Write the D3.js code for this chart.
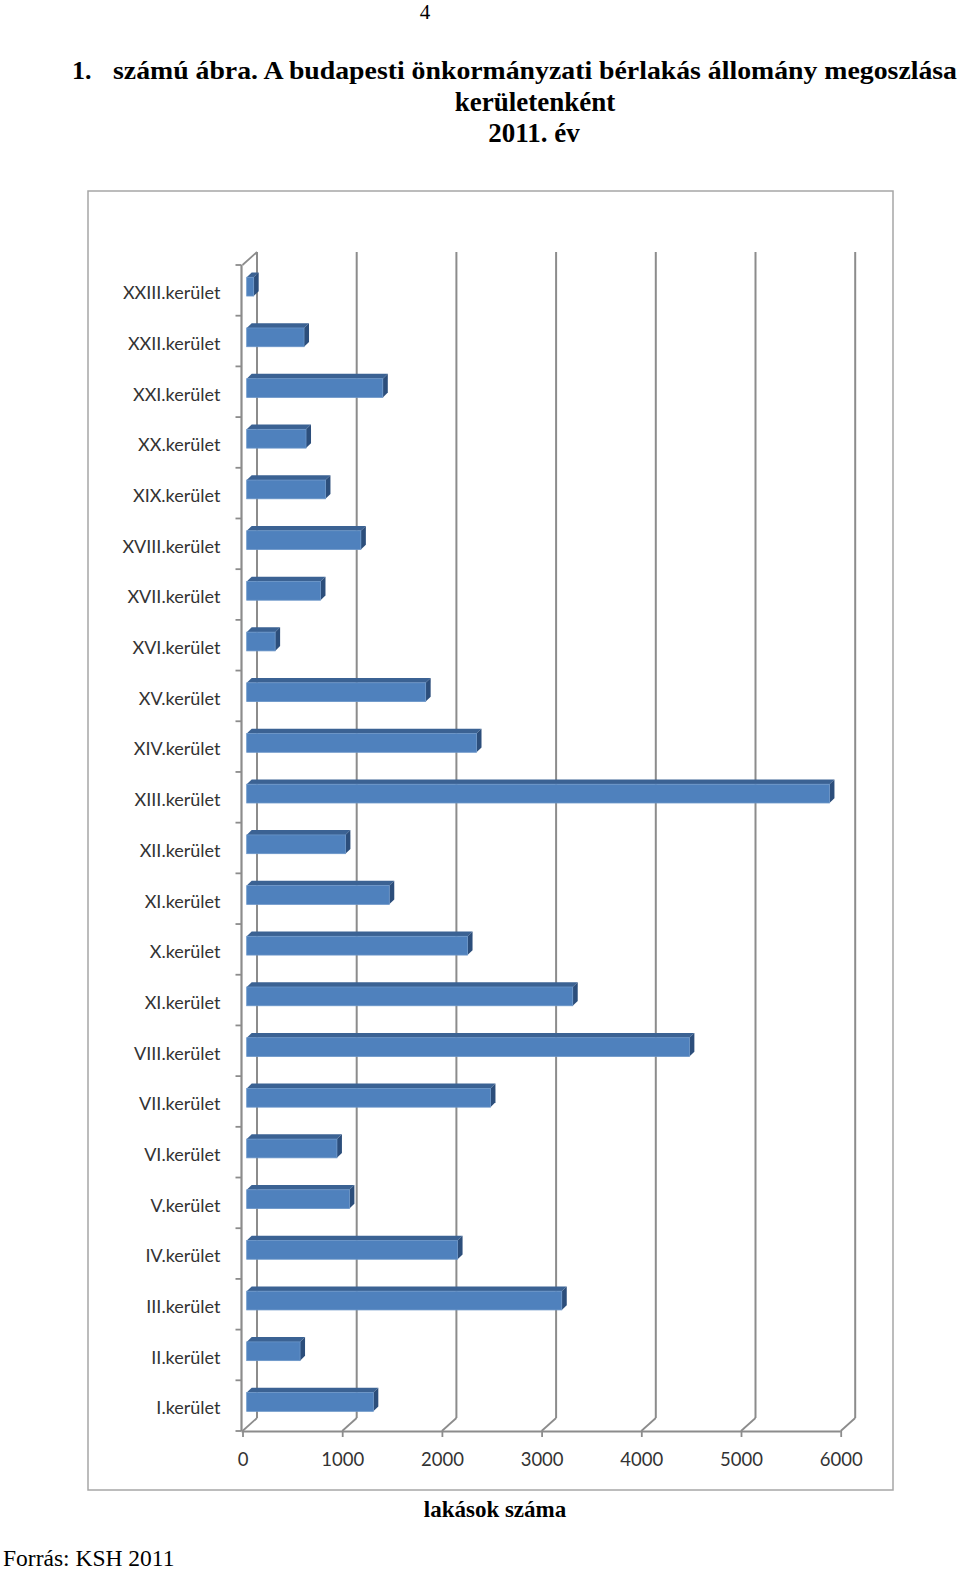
<!DOCTYPE html>
<html>
<head>
<meta charset="utf-8">
<script src="https://cdn.jsdelivr.net/npm/d3@7"></script>
<style>
  html, body { margin: 0; padding: 0; background: #fff; }
  svg { display: block; }
</style>
</head>
<body>
<svg id="chart" width="960" height="1573"></svg>
<script>
// ---- data (top to bottom, as in the chart) ----
const categories = [
  "XXIII.kerület", "XXII.kerület", "XXI.kerület", "XX.kerület", "XIX.kerület",
  "XVIII.kerület", "XVII.kerület", "XVI.kerület", "XV.kerület", "XIV.kerület",
  "XIII.kerület", "XII.kerület", "XI.kerület", "X.kerület", "XI.kerület ",
  "VIII.kerület", "VII.kerület", "VI.kerület", "V.kerület", "IV.kerület",
  "III.kerület", "II.kerület", "I.kerület"
];
const values = [
  70, 575, 1365, 595, 790,
  1145, 740, 285, 1795, 2305,
  5845, 990, 1430, 2215, 3270,
  4440, 2445, 905, 1030, 2115,
  3160, 535, 1270
];
const tickValues = [0, 1000, 2000, 3000, 4000, 5000, 6000];

const titleLine1Num = "1.";
const titleLine1 = "számú ábra. A budapesti önkormányzati bérlakás állomány megoszlása";
const titleLine2 = "kerületenként";
const titleLine3 = "2011. év";
const pageNumber = "4";
const axisTitle = "lakások száma";
const sourceText = "Forrás: KSH 2011";

// ---- drawing ----
const svg = d3.select("#chart");
const serif = "'Liberation Serif', 'Times New Roman', serif";
const sans = "Lato, 'Open Sans', sans-serif";

// page number and titles
svg.append("text").attr("x", 425).attr("y", 19).attr("text-anchor", "middle")
  .attr("font-family", serif).attr("font-size", 21).text(pageNumber);
svg.append("text").attr("x", 72).attr("y", 79)
  .attr("font-family", serif).attr("font-weight", "bold").attr("font-size", 26).text(titleLine1Num);
svg.append("text").attr("x", 113).attr("y", 79)
  .attr("font-family", serif).attr("font-weight", "bold").attr("font-size", 26)
  .attr("textLength", 844).attr("lengthAdjust", "spacingAndGlyphs").text(titleLine1);
svg.append("text").attr("x", 535).attr("y", 111).attr("text-anchor", "middle")
  .attr("font-family", serif).attr("font-weight", "bold").attr("font-size", 27).text(titleLine2);
svg.append("text").attr("x", 534).attr("y", 142).attr("text-anchor", "middle")
  .attr("font-family", serif).attr("font-weight", "bold").attr("font-size", 27).text(titleLine3);

// chart border
svg.append("rect").attr("x", 88).attr("y", 191).attr("width", 805).attr("height", 1299)
  .attr("fill", "#fff").attr("stroke", "#a6a6a6").attr("stroke-width", 1.5);

// 3D geometry
const depthDx = 14.5, depthDy = -13;          // full floor depth
const barOffDx = 4.2, barOffDy = -3.7;        // bar front face position in depth
const barDx = 5, barDy = -4.8;                // bar depth

const x = d3.scaleLinear().domain([0, 6000]).range([242.5, 840.7]);
const y = d3.scaleBand().domain(categories).range([265, 1431])
  .paddingInner(0.63).paddingOuter(0.315);
const yTop = 265, yBot = 1431;

const gridColor = "#8c8c8c";

// back-wall gridlines
svg.append("g").selectAll("line").data(tickValues).join("line")
  .attr("x1", d => x(d) + depthDx).attr("x2", d => x(d) + depthDx)
  .attr("y1", yTop + depthDy).attr("y2", yBot + depthDy)
  .attr("stroke", gridColor).attr("stroke-width", 2);

// floor diagonals
svg.append("g").selectAll("line").data(tickValues).join("line")
  .attr("x1", d => x(d)).attr("x2", d => x(d) + depthDx)
  .attr("y1", yBot).attr("y2", yBot + depthDy)
  .attr("stroke", gridColor).attr("stroke-width", 1.8);

// left wall: top diagonal
svg.append("line").attr("x1", x(0)).attr("y1", yTop)
  .attr("x2", x(0) + depthDx).attr("y2", yTop + depthDy)
  .attr("stroke", gridColor).attr("stroke-width", 1.8);

// bottom axis with ticks
const xAxis = d3.axisBottom(x).tickValues(tickValues).tickSize(6).tickPadding(16)
  .tickFormat(d3.format("d"));
const gx = svg.append("g").attr("transform", `translate(0,${yBot})`).call(xAxis);
gx.select(".domain").attr("stroke", gridColor).attr("stroke-width", 2.2)
  .attr("d", `M${x(0) - 1},0.5H${x(6000)}`);
gx.selectAll(".tick line").attr("stroke", gridColor).attr("stroke-width", 1.8);
gx.selectAll(".tick text").attr("font-family", sans).attr("font-size", 18.5)
  .attr("fill", "#333");

// left category axis
const yAxis = d3.axisLeft(y).tickSize(0).tickPadding(21);
const gy = svg.append("g").attr("transform", `translate(${x(0) - 1},0)`).call(yAxis);
gy.select(".domain").attr("stroke", gridColor).attr("stroke-width", 2.2)
  .attr("d", `M0,${yTop}V${yBot}`);
gy.selectAll(".tick text").attr("font-family", sans).attr("font-size", 18)
  .attr("dy", "0.49em").attr("fill", "#333");

// category boundary ticks
const boundaries = d3.range(categories.length + 1).map(i => yTop + i * y.step());
svg.append("g").selectAll("line").data(boundaries).join("line")
  .attr("x1", x(0) - 7).attr("x2", x(0) - 1)
  .attr("y1", d => d).attr("y2", d => d)
  .attr("stroke", gridColor).attr("stroke-width", 1.8);

// bars
const data = categories.map((c, i) => ({ c, v: values[i] }));
const bars = svg.append("g").selectAll("g").data(data).join("g");

const fx0 = () => x(0) + barOffDx;
const fx1 = d => x(d.v) + barOffDx;
const fy0 = d => y(d.c) + barOffDy;
const h = y.bandwidth();

// top face
bars.append("path")
  .attr("d", d => {
    const a = fx0(), b = fx1(d), t = fy0(d);
    return `M${a},${t}L${b},${t}L${b + barDx},${t + barDy}L${a + barDx},${t + barDy}Z`;
  })
  .attr("fill", "#3b6293");
// side face
bars.append("path")
  .attr("d", d => {
    const b = fx1(d), t = fy0(d);
    return `M${b},${t}L${b + barDx},${t + barDy}L${b + barDx},${t + barDy + h}L${b},${t + h}Z`;
  })
  .attr("fill", "#2c4e7b");
// front face
bars.append("rect")
  .attr("x", fx0()).attr("y", d => fy0(d))
  .attr("width", d => fx1(d) - fx0()).attr("height", h)
  .attr("fill", "#4f81bd").attr("stroke", "#6a95c8").attr("stroke-width", 0.8);

// axis title and source
svg.append("text").attr("x", 495).attr("y", 1517).attr("text-anchor", "middle")
  .attr("font-family", serif).attr("font-weight", "bold").attr("font-size", 23).text(axisTitle);
svg.append("text").attr("x", 3).attr("y", 1566)
  .attr("font-family", serif).attr("font-size", 23.5).text(sourceText);
</script>
</body>
</html>
